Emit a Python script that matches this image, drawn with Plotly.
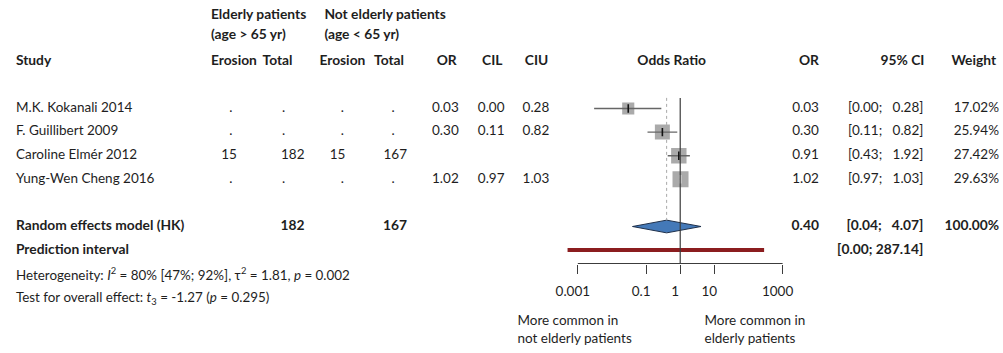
import math
import plotly.graph_objects as go

# ---- data -------------------------------------------------------------
studies = ["M.K. Kokanali 2014", "F. Guillibert 2009", "Caroline Elmér 2012", "Yung-Wen Cheng 2016"]
eld_erosion = [None, None, 15, None]
eld_total = [None, None, 182, None]
young_erosion = [None, None, 15, None]
young_total = [None, None, 167, None]
# reported OR / CI columns of the table (blank where not reported)
tab_or = [0.03, 0.30, None, 1.02]
tab_cil = [0.003, 0.11, None, 0.97]
tab_ciu = [0.28, 0.82, None, 1.03]
# forest-plot estimates
odds_ratio = [0.03, 0.30, 0.91, 1.02]
ci_low = [0.003, 0.11, 0.43, 0.97]
ci_high = [0.28, 0.82, 1.92, 1.03]
weight = [17.02, 25.94, 27.42, 29.63]

re_total_eld = 182
re_total_young = 167
re_or = 0.40
re_low = 0.04
re_high = 4.07
re_weight = 100.00
pi_low = 0.0005
pi_high = 287.14

het_i2 = 80
het_i2_low = 47
het_i2_high = 92
het_tau2 = 1.81
het_p = 0.002
test_df = 3
test_t = -1.27
test_p = 0.295

tick_vals = [0.001, 0.1, 1, 10, 1000]
tick_text = ["0.001", "0.1", "1", "10", "1000"]

# ---- geometry ---------------------------------------------------------
W, H = 1003, 353
ROW_PX = 23.6          # pixel height of one table row
ROW0_PX = 108.5        # pixel position of first study row
AXIS_PX = 263.5        # pixel position of the forest axis line
PX_PER_DEC = 34.3
ONE_PX = 678.6
XR = (-3.5, 3.5)

row_top = -ROW0_PX / ROW_PX
row_bot = (H - ROW0_PX) / ROW_PX
row_axis = (AXIS_PX - ROW0_PX) / ROW_PX
x_dom = ((ONE_PX + XR[0] * PX_PER_DEC) / W, (ONE_PX + XR[1] * PX_PER_DEC) / W)

FONT = "Lato"
TXT = "#1e1e1e"
FS = 13.5
FS_BOLD = 13.8
FS_SMALL = 13.4

fig = go.Figure()
POS = {"left": "middle right", "right": "middle left", "center": "middle center"}


def put(xpx, row, text, anchor="left", bold=False, size=None):
    if size is None:
        size = FS_BOLD if bold else FS
    if bold:
        text = "<b>" + text + "</b>"
    fig.add_trace(go.Scatter(x=[xpx / W], y=[row], xaxis="x2", yaxis="y2", mode="text",
                             text=[text], textposition=POS[anchor], cliponaxis=False,
                             textfont=dict(family=FONT, size=size, color=TXT),
                             hoverinfo="skip", showlegend=False))


def fmt(v):
    return "" if v is None else f"{v:.2f}"


NB = "\u00a0"

# header
put(207, -3.92, "Elderly patients", bold=True)
put(207, -3.07, "(age > 65 yr)", bold=True)
put(321, -3.92, "Not elderly patients", bold=True)
put(321, -3.07, "(age < 65 yr)", bold=True)
hdr = -1.99
put(11, hdr, "Study", bold=True)
put(207, hdr, "Erosion", bold=True)
put(289, hdr, "Total", "right", bold=True)
put(316, hdr, "Erosion", bold=True)
put(401, hdr, "Total", "right", bold=True)
put(454, hdr, "OR", "right", bold=True)
put(500, hdr, "CIL", "right", bold=True)
put(546, hdr, "CIU", "right", bold=True)
put(670, hdr, "Odds Ratio", "center", bold=True)
put(818, hdr, "OR", "right", bold=True)
put(924, hdr, "95% CI", "right", bold=True)
put(996, hdr, "Weight", "right", bold=True)

# study rows
count_cols = [(eld_erosion, 233, 227), (eld_total, 301, 280),
              (young_erosion, 342, 339), (young_total, 404, 390)]
for i, name in enumerate(studies):
    put(11, i, name)
    for col, xr, xdot in count_cols:
        if col[i] is None:
            put(xdot, i, ".", "center")
        else:
            put(xr, i, str(col[i]), "right")
    if tab_or[i] is not None:
        put(456, i, fmt(tab_or[i]), "right")
        put(502, i, fmt(tab_cil[i]), "right")
        put(547, i, fmt(tab_ciu[i]), "right")
    put(818, i, f"{odds_ratio[i]:.2f}", "right")
    put(923, i, f"[{ci_low[i]:.2f};{NB * 3}{ci_high[i]:.2f}]", "right")
    put(999, i, f"{weight[i]:.2f}%", "right")

# pooled rows
put(11, 5, "Random effects model (HK)", bold=True)
put(301, 5, str(re_total_eld), "right", bold=True)
put(404, 5, str(re_total_young), "right", bold=True)
put(818, 5, f"{re_or:.2f}", "right", bold=True)
put(923, 5, f"[{re_low:.2f};{NB * 3}{re_high:.2f}]", "right", bold=True)
put(999, 5, f"{re_weight:.2f}%", "right", bold=True)
put(11, 6, "Prediction interval", bold=True)
put(923, 6, f"[{pi_low:.2f}; {pi_high:.2f}]", "right", bold=True)

put(11, 7.13, f"Heterogeneity: <i>I</i><sup>2</sup> = {het_i2}% [{het_i2_low}%; {het_i2_high}%], "
              f"τ<sup>2</sup> = {het_tau2:.2f}, <i>p</i> = {het_p}", size=FS_SMALL)
put(11, 8.07, f"Test for overall effect: <i>t</i><sub>{test_df}</sub> = {test_t:.2f} (<i>p</i> = {test_p})",
    size=FS_SMALL)

put(515, 9.03, "More common in")
put(515, 9.8, "not elderly patients")
put(703, 9.03, "More common in")
put(703, 9.8, "elderly patients")

# ---- forest marks -----------------------------------------------------
rows = list(range(len(studies)))
sizes = [16 * math.sqrt(w / max(weight)) for w in weight]

# vertical reference lines
fig.add_shape(type="line", xref="x", yref="y", x0=1, x1=1, y0=-0.45, y1=row_axis,
              line=dict(color="#3c3c3c", width=1.2))
diamond_h = 0.27
fig.add_shape(type="line", xref="x", yref="y", x0=re_or, x1=re_or, y0=-0.45, y1=5 - diamond_h,
              line=dict(color="#a8a8a8", width=1, dash="dot"))

# squares
fig.add_trace(go.Scatter(x=odds_ratio, y=rows, mode="markers",
                         marker=dict(symbol="square", size=sizes, color="#868686", line=dict(width=0)),
                         hoverinfo="skip", showlegend=False))

# confidence intervals
cx, cy = [], []
for i in rows:
    cx += [ci_low[i], ci_high[i], None]
    cy += [i, i, None]
fig.add_trace(go.Scatter(x=cx, y=cy, mode="lines", line=dict(color="#666666", width=1.4),
                         hoverinfo="skip", showlegend=False))

# point-estimate ticks (white when the interval lies inside the box)
tick_cols = []
for i in rows:
    span = (math.log10(ci_high[i]) - math.log10(ci_low[i])) * PX_PER_DEC
    tick_cols.append("#ffffff" if span < sizes[i] else "#111111")
fig.add_trace(go.Scatter(x=odds_ratio, y=rows, mode="markers",
                         marker=dict(symbol="line-ns", size=6, line=dict(color=tick_cols, width=1.6)),
                         hoverinfo="skip", showlegend=False))

# pooled diamond
fig.add_trace(go.Scatter(x=[re_low, re_or, re_high, re_or, re_low],
                         y=[5, 5 - diamond_h, 5, 5 + diamond_h, 5],
                         mode="lines", fill="toself", fillcolor="#4479b8",
                         line=dict(color="#1d2f4a", width=1), hoverinfo="skip", showlegend=False))

# prediction interval
fig.add_trace(go.Scatter(x=[pi_low, pi_high], y=[6, 6], mode="lines",
                         line=dict(color="#8b1d1f", width=4), hoverinfo="skip", showlegend=False))

# axis baseline between outer ticks
fig.add_shape(type="line", xref="x", yref="y domain", x0=tick_vals[0], x1=tick_vals[-1], y0=0, y1=0,
              line=dict(color="#3c3c3c", width=1.2))

fig.update_layout(
    width=W, height=H, margin=dict(l=0, r=0, t=0, b=0),
    paper_bgcolor="white", plot_bgcolor="rgba(0,0,0,0)",
    font=dict(family=FONT, size=FS, color=TXT),
    xaxis=dict(type="log", range=list(XR), domain=list(x_dom), anchor="y",
               showgrid=False, zeroline=False, showline=False,
               tickvals=tick_vals, ticktext=tick_text, ticks="outside", ticklen=9,
               tickwidth=1.2, tickcolor="#3c3c3c", ticklabelshift=-5, ticklabelstandoff=6,
               tickfont=dict(family=FONT, size=FS, color=TXT)),
    yaxis=dict(domain=[(H - AXIS_PX) / H, 1], range=[row_axis, row_top],
               visible=False, showgrid=False, zeroline=False),
    xaxis2=dict(domain=[0, 1], range=[0, 1], visible=False, anchor="y2"),
    yaxis2=dict(domain=[0, 1], range=[row_bot, row_top], visible=False, anchor="x2"),
)

fig.write_html("out.html")
